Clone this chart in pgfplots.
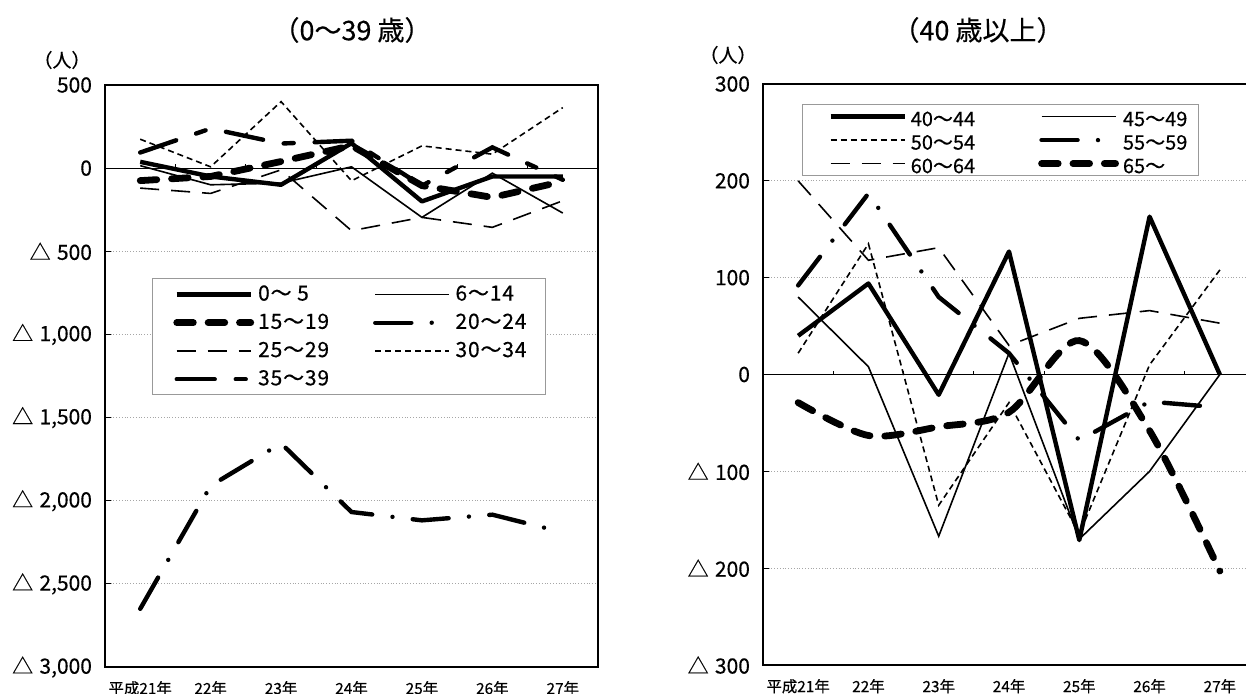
\documentclass[border=0pt]{standalone}
\usepackage{fontspec}
\setmainfont{Noto Sans CJK JP}[FakeBold=0.35]
\newfontfamily\legfont{Noto Sans CJK JP}[LetterSpace=4, FakeBold=0.35]
\usepackage{pgfplots}
\pgfplotsset{compat=1.18}

\newcommand\tri{△\hspace{0.3em}}

% line styles of the age groups
\tikzset{
  s0/.style={black, line width=2.2pt, line join=round},
  s1/.style={black, line width=0.8pt},
  s2/.style={black, line width=3.4pt, line cap=round, dash pattern=on 8.3pt off 7.4pt},
  s3/.style={black, line width=2.2pt, line cap=round, dash pattern=on 18pt off 10.2pt on 0pt off 10.2pt},
  s4/.style={black, line width=0.8pt, dash pattern=on 9.5pt off 6pt},
  s5/.style={black, line width=0.8pt, dash pattern=on 3pt off 2pt},
  s6/.style={black, line width=2.2pt, line cap=round, dash pattern=on 19pt off 10.5pt on 5pt off 10.5pt},
}

\pgfplotsset{
  panel/.style={
    scale only axis, anchor=south west,
    xmin=-0.5, xmax=6.5, xtick={0,...,6},
    xticklabels={平成21年,22年,23年,24年,25年,26年,27年},
    x tick label style={font=\fontsize{7.7}{9}\selectfont, yshift=-3.5pt},
    x tick style={draw=none},
    ytick pos=left, tick align=inside, major tick length=3pt,
    y tick style={black, line width=0.5pt},
    y tick label style={font=\fontsize{10.5}{12}\selectfont, xshift=-3pt},
    /pgf/number format/assume math mode=true,
    ymajorgrids, major grid style={gray!70, line width=0.4pt, densely dotted},
    extra y ticks={0}, extra y tick labels={},
    extra y tick style={grid=major, major grid style={black, solid, line width=0.6pt}, major tick length=0pt},
    axis line style={black, line width=1.3pt},
    legend columns=2,
    legend cell align=left,
    legend style={draw=gray!80, line width=0.5pt, fill=white, anchor=north west},
  },
}

\begin{document}
\begin{tikzpicture}

% 0-39
\begin{axis}[panel, at={(52.5pt,13pt)}, width=246.5pt, height=291pt,
  ymin=-3000, ymax=500, ytick={-3000,-2500,...,500},
  yticklabels={{\tri 3,000},{\tri 2,500},{\tri 2,000},{\tri 1,500},{\tri 1,000},{\tri 500},0,500},
  legend image code/.code={\path (0pt,0pt); \draw[#1] (3pt,0pt) -- (40pt,0pt);},
  legend style={at={(0.095,0.668)}, font=\legfont\fontsize{10.5}{12}\selectfont,
    inner xsep=7.5pt, inner ysep=1.3pt, row sep=1pt,
    /tikz/every even column/.append style={column sep=17pt}},
]
\addplot[s0] coordinates {(0,38)(1,-50)(2,-100)(3,150)(4,-200)(5,-50)(6,-50)};
\addplot[s1] coordinates {(0,15)(1,-100)(2,-90)(3,8)(4,-296)(5,-30)(6,-270)};
\addplot[s2] coordinates {(0,-75)(1,-50)(2,40)(3,135)(4,-105)(5,-176)(6,-80)};
\addplot[s3] coordinates {(0,-2650)(1,-1910)(2,-1655)(3,-2068)(4,-2118)(5,-2084)(6,-2190)};
\addplot[s4] coordinates {(0,-120)(1,-152)(2,-10)(3,-376)(4,-296)(5,-356)(6,-196)};
\addplot[s5] coordinates {(0,174)(1,8)(2,400)(3,-76)(4,134)(5,84)(6,364)};
\addplot[s6] coordinates {(0,94)(1,238)(2,148)(3,165)(4,-106)(5,125)(6,-70)};
\legend{0〜 5,6〜14,15〜19,20〜24,25〜29,30〜34,35〜39}
\pgfplotsinvokeforeach{0.5,1.5,2.5,3.5,4.5,5.5}{
  \draw[black, line width=0.5pt] (axis cs:#1,0) -- ([yshift=2pt]axis cs:#1,0);}
\end{axis}

% 40 and over
\begin{axis}[panel, at={(381.5pt,14pt)}, width=246pt, height=290.5pt,
  ymin=-300, ymax=300, ytick={-300,-200,...,300},
  yticklabels={{\tri 300},{\tri 200},{\tri 100},0,100,200,300},
  legend image code/.code={\path (0pt,0pt); \draw[#1] (9.5pt,0pt) -- (46.5pt,0pt);},
  legend style={at={(0.079,0.9656)}, font=\fontsize{10}{12}\selectfont,
    inner xsep=3.5pt, inner ysep=0.3pt, row sep=0.25pt,
    nodes={inner ysep=1pt, text height=9.5pt, text depth=0pt},
    /tikz/every even column/.append style={column sep=20pt}},
]
\addplot[s0] coordinates {(0,40)(1,94)(2,-21)(3,127)(4,-171)(5,163)(6,0)};
\addplot[s1] coordinates {(0,80)(1,8)(2,-167)(3,22)(4,-170)(5,-100)(6,0)};
\addplot[s5] coordinates {(0,22)(1,135)(2,-135)(3,-29)(4,-165)(5,10)(6,108)};
\addplot[s3] coordinates {(0,92)(1,187)(2,80)(3,22)(4,-68)(5,-28)(6,-34)};
\addplot[s4] coordinates {(0,200)(1,118)(2,131)(3,30)(4,58)(5,66)(6,53)};
\addplot[s2, smooth, tension=0.5] coordinates {(0,-29)(1,-63)(2,-54)(3,-39)(4,35)(5,-58)(6,-203)};
\legend{40〜44,45〜49,50〜54,55〜59,60〜64,65〜}
\pgfplotsinvokeforeach{0.5,1.5,2.5,3.5,4.5,5.5}{
  \draw[black, line width=0.5pt] (axis cs:#1,0) -- ([yshift=2pt]axis cs:#1,0);}
\end{axis}

\node[font=\fontsize{13.5}{15}\selectfont] at (176pt,331.5pt) {（0〜39 歳）};
\node[font=\fontsize{13.5}{15}\selectfont] at (489pt,331.5pt) {（40 歳以上）};
\node[font=\fontsize{9.5}{11}\selectfont] at (31pt,316.5pt) {（人）};
\node[font=\fontsize{9.5}{11}\selectfont] at (364pt,319pt) {（人）};

\pgfresetboundingbox
\path[use as bounding box] (0,0) rectangle (623pt,346.5pt);
\end{tikzpicture}
\end{document}
